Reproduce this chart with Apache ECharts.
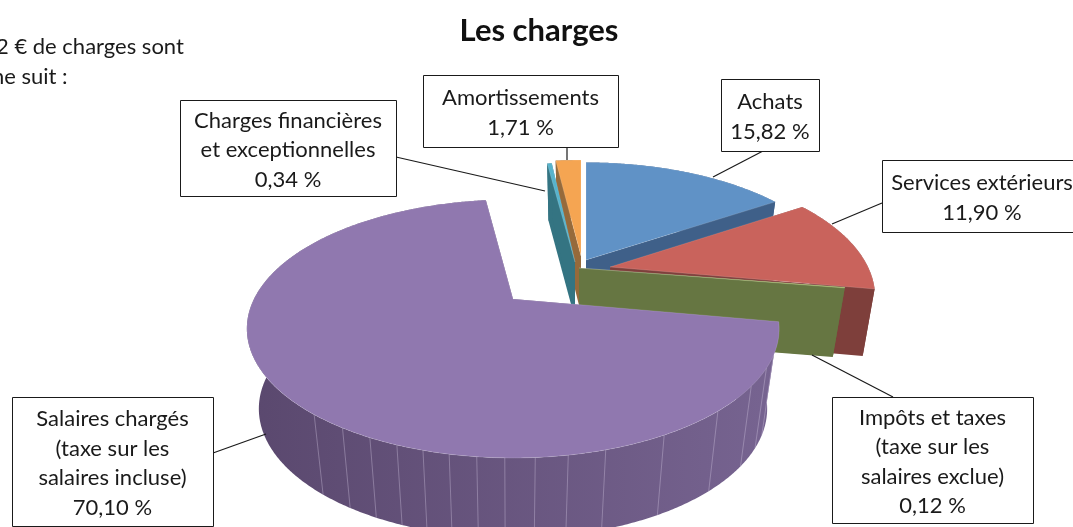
<!DOCTYPE html>
<html>
<head>
<meta charset="utf-8">
<style>html,body{margin:0;padding:0;background:#fff;overflow:hidden}#main{width:1073px;height:527px}</style>
<script src="https://cdn.jsdelivr.net/npm/echarts@6/dist/echarts.min.js"></script>
</head>
<body>
<div id="main"></div>
<script>
var categories = ['Achats', 'Services extérieurs', 'Impôts et taxes\n(taxe sur les\nsalaires exclue)', 'Salaires chargés\n(taxe sur les\nsalaires incluse)', 'Charges financières\net exceptionnelles', 'Amortissements'];
var shares = [15.82, 11.90, 0.12, 70.10, 0.34, 1.71];
var topColors = ['#6092c6', '#c9635c', '#a5c162', '#9078af', '#57b3cc', '#f5a552'];
var wallColors = ['#3f6089', '#7e3f3b', '#667642', '#5c4a70', '#347482', '#966a3b'];
// pale lines on the rim of the big slice, degrees clockwise from 12 o'clock
var rimLines = [114.5, 120, 127.8, 139.2, 152.3, 163.8, 170.5, 176.2, 181.4, 186.2, 191, 195.7, 200.6, 206, 212, 219.1];

// per slice: apex in px, half width and half depth of the disc, wall height
var shape3d = [
    {ax: 586, ay: 260, w: 254, d: 120, h: 60},
    {ax: 610, ay: 267, w: 258, d: 124, h: 67},
    {ax: 579, ay: 268, w: 259, d: 108, h: 69},
    {ax: 513, ay: 299, w: 259, d: 122.4, h: 80},
    {ax: 575, ay: 262, w: 266, d: 122, h: 57},
    {ax: 581, ay: 256, w: 290, d: 118, h: 57}
];
var drawOrder = [0, 5, 4, 1, 2, 3];
var persp = 0.23, shrink = 0.955;

var total = shares.reduce(function (a, b) { return a + b; }, 0);
var startAngles = [];
shares.reduce(function (sum, v, i) {
    startAngles[i] = sum / total * 360;
    return sum + v;
}, 0);

function rimPoint(s, deg) {
    var a = deg * Math.PI / 180;
    var q = 1 + persp * Math.cos(a);
    return [s.ax + s.w * Math.sin(a) / q, s.ay - s.d * Math.cos(a) / q];
}
function dropPoint(s, p) {
    return [s.ax + (p[0] - s.ax) * shrink, p[1] + s.h];
}
function poly(points, fill) {
    return {type: 'polygon', shape: {points: points}, style: {fill: fill}};
}

function renderSlice(params) {
    var idx = drawOrder[params.dataIndex];
    var s = shape3d[idx];
    var a0 = startAngles[idx];
    var a1 = a0 + shares[idx] / total * 360;
    var apex = [s.ax, s.ay];
    var rim = [];
    var steps = Math.max(2, Math.ceil((a1 - a0) * 2));
    for (var k = 0; k <= steps; k++) {
        rim.push(rimPoint(s, a0 + (a1 - a0) * k / steps));
    }
    var fill = wallColors[idx];
    if (idx === 3) {
        fill = {type: 'linear', x: 247, y: 0, x2: 780, y2: 0, global: true, colorStops: [
            {offset: 0, color: '#5a486e'}, {offset: 1, color: '#776491'}
        ]};
    }
    var children = [];
    // outer wall
    children.push(poly(rim.concat(rim.map(function (p) { return dropPoint(s, p); }).reverse()), fill));
    // flat walls along both cut edges
    [rim[0], rim[rim.length - 1]].forEach(function (p) {
        children.push(poly([apex, p, dropPoint(s, p), dropPoint(s, apex)], fill));
    });
    if (idx === 3) {
        rimLines.forEach(function (deg) {
            var p = rimPoint(s, deg);
            var q = dropPoint(s, p);
            children.push({
                type: 'line',
                shape: {x1: p[0], y1: p[1], x2: q[0], y2: q[1]},
                style: {stroke: 'rgba(215,205,230,0.4)', lineWidth: 0.9}
            });
        });
    }
    // top face
    children.push({
        type: 'polygon',
        shape: {points: [apex].concat(rim)},
        style: {fill: topColors[idx], stroke: 'rgba(255,255,255,0.18)', lineWidth: 0.8}
    });
    return {type: 'group', children: children};
}

function valueText(i) {
    return shares[i].toFixed(2).replace('.', ',') + ' %';
}

var labelFont = 'Lato';
// box [x, y, w, h] and leader line [x1, y1, x2, y2] for each slice
var boxes = [[721, 79, 98, 72], [882, 160, 200, 72], [832, 397, 201, 126], [12, 397, 201, 129], [180, 100, 216, 96], [423, 75, 195, 72]];
var leaders = [[763, 151, 713, 177], [882, 203, 832, 224], [893, 397, 812, 355], [213, 453, 266, 434], [396, 157, 545, 191], [567, 147, 567, 160]];

var graphics = [];
categories.forEach(function (name, i) {
    var b = boxes[i], l = leaders[i];
    graphics.push({type: 'line', z: 10, silent: true, shape: {x1: l[0], y1: l[1], x2: l[2], y2: l[3]}, style: {stroke: '#1a1a1a', lineWidth: 1.2}});
    graphics.push({type: 'rect', z: 11, silent: true, shape: {x: b[0] + 0.5, y: b[1] + 0.5, width: b[2], height: b[3]}, style: {fill: '#fff', stroke: '#1a1a1a', lineWidth: 1}});
    graphics.push({
        type: 'text', z: 12, silent: true,
        x: i === 1 ? 982 : b[0] + b[2] / 2, y: b[1] + b[3] / 2 + 2,
        style: {text: name + '\n' + valueText(i), fill: '#1a1a1a', font: '22px ' + labelFont, lineHeight: 29.5, align: 'center', verticalAlign: 'middle'}
    });
});
graphics.push({type: 'text', silent: true, x: -4, y: 47, style: {text: '2 € de charges sont', fill: '#1a1a1a', font: '22px ' + labelFont, verticalAlign: 'middle'}});
graphics.push({type: 'text', silent: true, x: -8, y: 77, style: {text: 'ne suit :', fill: '#1a1a1a', font: '22px ' + labelFont, verticalAlign: 'middle'}});

var myChart = echarts.init(document.getElementById('main'), null, {renderer: 'canvas'});
myChart.setOption({
    animation: false,
    backgroundColor: '#fff',
    title: {
        text: 'Les charges',
        left: 534,
        top: 10,
        textAlign: 'center',
        textStyle: {fontFamily: labelFont, fontSize: 31, fontWeight: 'bold', color: '#111'}
    },
    graphic: graphics,
    series: [{
        type: 'custom',
        coordinateSystem: 'none',
        silent: true,
        clip: false,
        renderItem: renderSlice,
        data: drawOrder.map(function (i) { return [shares[i]]; })
    }]
});
</script>
</body>
</html>
